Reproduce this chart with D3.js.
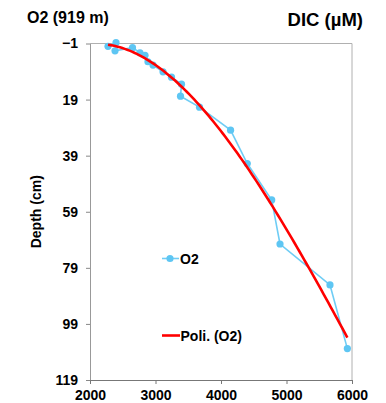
<!DOCTYPE html>
<html>
<head>
<meta charset="utf-8">
<script src="https://cdn.jsdelivr.net/npm/d3@7"></script>
<style>
  body { margin: 0; background: #fff; }
  svg { display: block; font-family: "Liberation Sans", Arial, sans-serif; font-weight: bold; }
</style>
</head>
<body>
<div id="chart"></div>
<script>
// O2 series: DIC (µM) vs depth (cm)
const dic   = [2275, 2397, 2382, 2649, 2763, 2840, 2885, 2962, 3115, 3244, 3397, 3382, 3672, 4146, 4401, 4774, 4901, 5664, 5929];
const depth = [0.0, -1.3, 1.6, 0.5, 2.3, 3.2, 5.5, 6.7, 9.1, 11.0, 13.5, 17.8, 21.7, 29.9, 41.8, 54.8, 70.5, 85.1, 107.8];
const xTicks = [2000, 3000, 4000, 5000, 6000];
const yTicks = [-1, 19, 39, 59, 79, 99, 119];

const W = 386, H = 403;
const pL = 90, pR = 352, pT = 43.5, pB = 380;

const svg = d3.select('#chart').append('svg')
  .attr('width', W).attr('height', H);

const x = d3.scaleLinear().domain([2000, 6000]).range([pL, pR]);
const y = d3.scaleLinear().domain([-1, 119]).range([pT, pB]);

// plot frame (top + right)
svg.append('path')
  .attr('d', `M${pL},${pT}H${pR}V${pB}`)
  .attr('fill', 'none').attr('stroke', '#b0b0b0').attr('stroke-width', 1);

// Y axis
const yAxis = svg.append('g')
  .attr('transform', `translate(${pL},0)`)
  .call(d3.axisLeft(y).tickValues(yTicks).tickSize(4).tickSizeOuter(0).tickPadding(8));
yAxis.select('.domain').attr('stroke', '#999');
yAxis.selectAll('.tick line').attr('stroke', '#888');
yAxis.selectAll('text').attr('font-size', 14).attr('fill', '#000');

// X axis
const xAxis = svg.append('g')
  .attr('transform', `translate(0,${pB})`)
  .call(d3.axisBottom(x).tickValues(xTicks).tickFormat(d3.format('d')).tickSize(4).tickSizeOuter(0).tickPadding(6));
xAxis.select('.domain').attr('stroke', '#777');
xAxis.selectAll('.tick line').attr('stroke', '#777');
xAxis.selectAll('text').attr('font-size', 14).attr('fill', '#000');

// titles
svg.append('text').attr('x', 27).attr('y', 23).attr('font-size', 16).text('O2 (919 m)');
svg.append('text').attr('x', 363).attr('y', 26).attr('text-anchor', 'end').attr('font-size', 18.5).text('DIC (µM)');
svg.append('text')
  .attr('transform', `translate(41,${(pT + pB) / 2}) rotate(-90)`)
  .attr('text-anchor', 'middle').attr('font-size', 14).text('Depth (cm)');

// data series
const pts = dic.map((d, i) => [d, depth[i]]);
const line = d3.line().x(d => x(d[0])).y(d => y(d[1]));

svg.append('path').datum(pts)
  .attr('d', line)
  .attr('fill', 'none').attr('stroke', '#6fcdf5').attr('stroke-width', 1.6);

svg.selectAll('circle.pt').data(pts).enter().append('circle')
  .attr('class', 'pt')
  .attr('cx', d => x(d[0])).attr('cy', d => y(d[1]))
  .attr('r', 3.6).attr('fill', '#5ec6f3');

// polynomial trendline, least squares of depth on DIC
function polyFit(xs, ys, order) {
  const n = order + 1;
  const A = [];
  for (let r = 0; r < n; r++) {
    A.push([]);
    for (let c = 0; c < n; c++) A[r].push(d3.sum(xs, v => Math.pow(v, r + c)));
    A[r].push(d3.sum(xs, (v, i) => Math.pow(v, r) * ys[i]));
  }
  for (let i = 0; i < n; i++) {
    let p = i;
    for (let k = i + 1; k < n; k++) if (Math.abs(A[k][i]) > Math.abs(A[p][i])) p = k;
    [A[i], A[p]] = [A[p], A[i]];
    for (let k = i + 1; k < n; k++) {
      const f = A[k][i] / A[i][i];
      for (let c = i; c <= n; c++) A[k][c] -= f * A[i][c];
    }
  }
  const coef = new Array(n).fill(0);
  for (let i = n - 1; i >= 0; i--) {
    let s = A[i][n];
    for (let c = i + 1; c < n; c++) s -= A[i][c] * coef[c];
    coef[i] = s / A[i][i];
  }
  return coef;
}
const xs = dic.map(v => v / 1000);
const coef = polyFit(xs, depth, 3);
const [dMin, dMax] = d3.extent(dic);
const fit = d3.range(0, 101).map(i => {
  const v = dMin + (dMax - dMin) * i / 100;
  const t = v / 1000;
  return [v, coef.reduce((s, c, k) => s + c * Math.pow(t, k), 0)];
});
svg.append('path').datum(fit)
  .attr('d', line)
  .attr('fill', 'none').attr('stroke', '#ff0000').attr('stroke-width', 2.6);

// legend
const lg = svg.append('g');
lg.append('line').attr('x1', 162).attr('x2', 179).attr('y1', 258.5).attr('y2', 258.5)
  .attr('stroke', '#6fcdf5').attr('stroke-width', 1.6);
lg.append('circle').attr('cx', 170).attr('cy', 258.5).attr('r', 3.6).attr('fill', '#5ec6f3');
lg.append('text').attr('x', 180).attr('y', 263.5).attr('font-size', 14).text('O2');
lg.append('line').attr('x1', 162).attr('x2', 180).attr('y1', 335.5).attr('y2', 335.5)
  .attr('stroke', '#ff0000').attr('stroke-width', 2.6);
lg.append('text').attr('x', 180.5).attr('y', 340.5).attr('font-size', 14).text('Poli. (O2)');
</script>
</body>
</html>
